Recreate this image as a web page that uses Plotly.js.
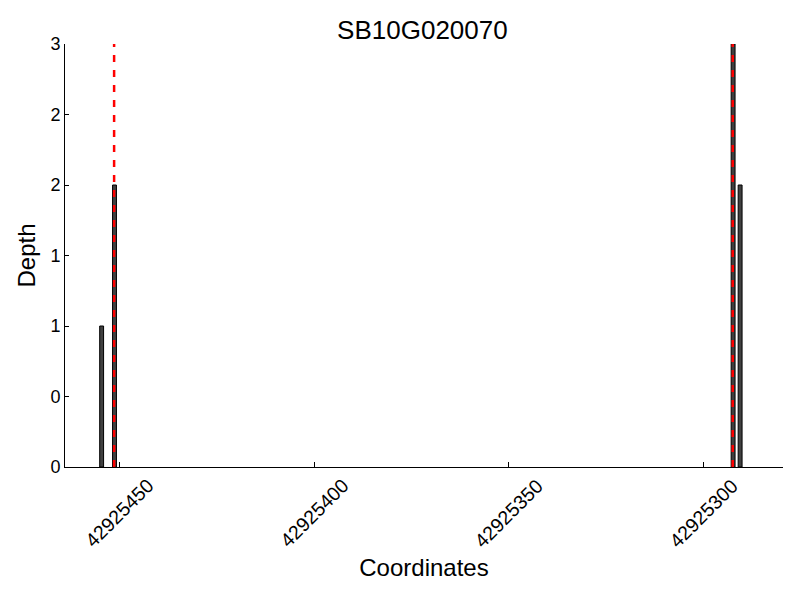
<!DOCTYPE html>
<html>
<head>
<meta charset="utf-8">
<script src="https://cdn.plot.ly/plotly-3.0.1.min.js"></script>
<style>html,body{margin:0;padding:0;background:#fff;}#chart{width:800px;height:600px;}</style>
</head>
<body>
<div id="chart"></div>
<script>
const chartTitle = "SB10G020070";
const coordinates = [42925454.5, 42925451.2, 42925292.5, 42925290.7];
const depths = [1, 2, 3, 2];
const markerPositions = [42925451.3, 42925292.6];
const yTickValues = [0, 0.5, 1, 1.5, 2, 2.5, 3];
const yTickLabels = ["0", "0", "1", "1", "2", "2", "3"];
const xTickValues = [42925450, 42925400, 42925350, 42925300];
const xTickLabels = ["42925450", "42925400", "42925350", "42925300"];

const font = "Liberation Sans, Arial, sans-serif";

const trace = {
  type: "bar",
  x: coordinates,
  y: depths,
  width: 1,
  marker: {color: "#404040", line: {color: "#000000", width: 1}},
  hoverinfo: "x+y"
};

const shapes = markerPositions.map(p => ({
  type: "line", xref: "x", yref: "paper",
  x0: p, x1: p, y0: 0, y1: 1,
  line: {color: "#ff0000", width: 2.5, dash: "7px,8px"}
}));

// rotated tick labels centred on their ticks
const tickAnnotations = xTickValues.map((v, i) => ({
  x: v, xref: "x", y: 0, yref: "paper",
  text: xTickLabels[i], showarrow: false,
  textangle: -45, xanchor: "center", yanchor: "middle",
  yshift: -46, font: {size: 19.5, family: font, color: "#000"}
}));

const layout = {
  width: 800, height: 600,
  margin: {l: 65, r: 17, t: 44, b: 133},
  paper_bgcolor: "#ffffff", plot_bgcolor: "#ffffff",
  showlegend: false,
  font: {family: font, color: "#000000", size: 18},
  title: {text: chartTitle, font: {size: 26, family: font}, x: 0.528, xanchor: "center", y: 0.95, yanchor: "middle"},
  bargap: 0,
  xaxis: {
    range: [42925463.9, 42925279.7],
    tickvals: xTickValues,
    showticklabels: false,
    ticks: "inside", ticklen: 5, tickcolor: "#000",
    showline: true, linecolor: "#000", linewidth: 1,
    showgrid: false, zeroline: false,
    title: {text: "Coordinates", font: {size: 24}, standoff: 92}
  },
  yaxis: {
    range: [0, 3],
    tickvals: yTickValues, ticktext: yTickLabels,
    ticks: "inside", ticklen: 4, tickcolor: "#000",
    showline: true, linecolor: "#000", linewidth: 1,
    showgrid: false, zeroline: false,
    tickfont: {size: 18},
    title: {text: "Depth", font: {size: 24}, standoff: 7}
  },
  annotations: tickAnnotations,
  shapes: shapes
};

Plotly.newPlot("chart", [trace], layout, {displayModeBar: false, staticPlot: true});
</script>
</body>
</html>
